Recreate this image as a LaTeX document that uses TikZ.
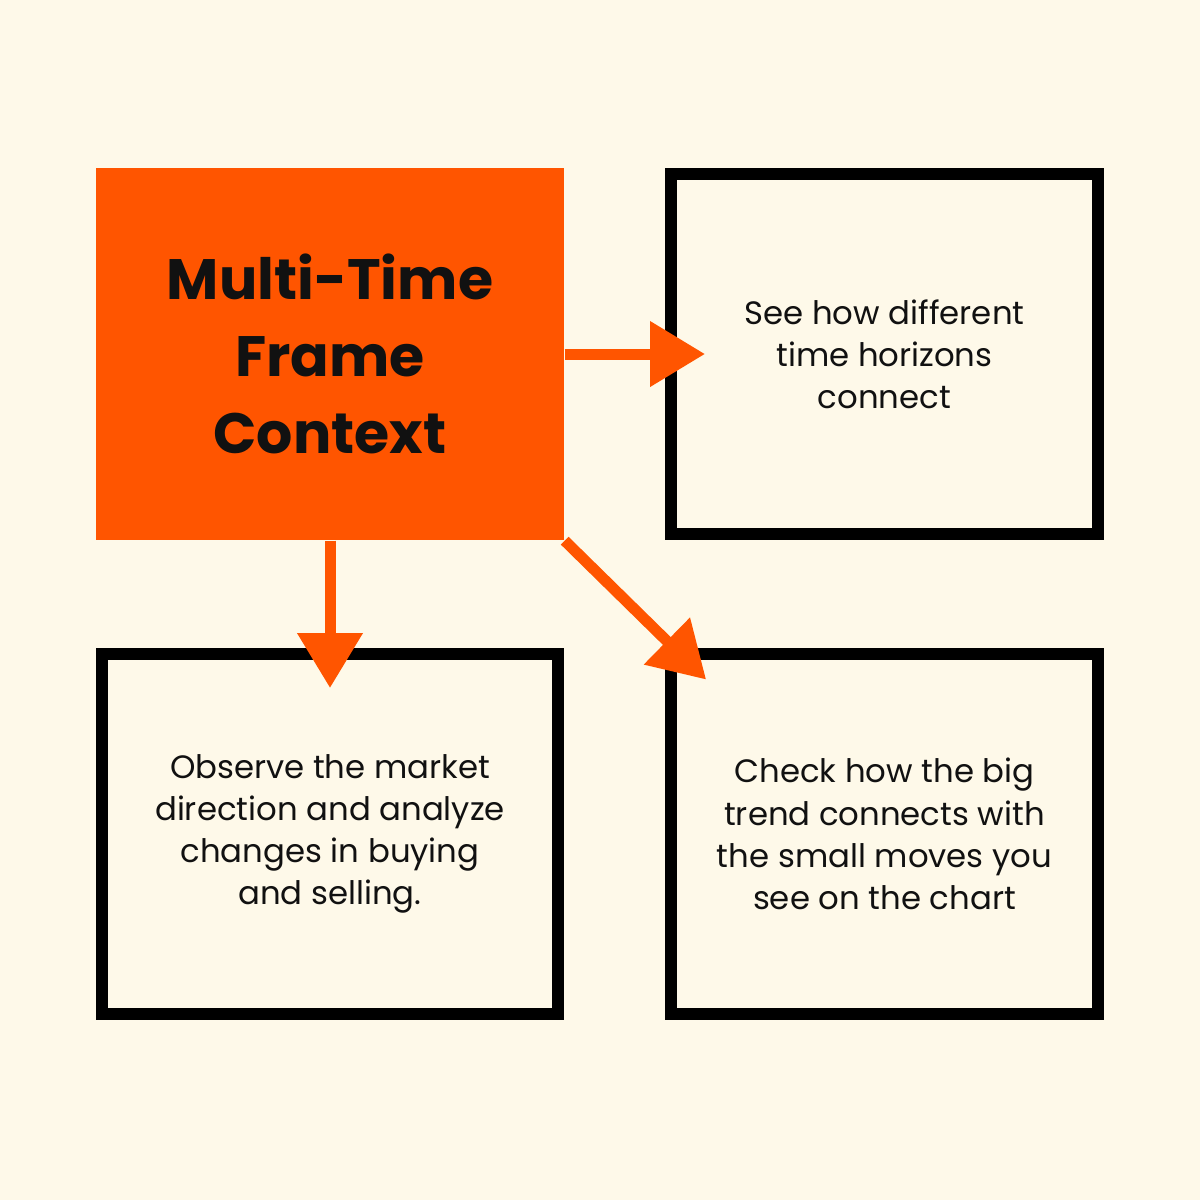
\documentclass[tikz,border=0pt]{standalone}
\usepackage{fontspec}
\setmainfont{Poppins}
\usetikzlibrary{arrows.meta}
\definecolor{paper}{HTML}{FEF9E9}
\definecolor{flame}{HTML}{FF5500}
\definecolor{ink}{HTML}{111111}

\begin{document}
\begin{tikzpicture}[>={Triangle[length=5.5mm,width=6.3mm]}, font=\fontsize{9.2}{12}\selectfont, text=ink]
  \tikzstyle{every edge}=[draw=flame, line width=1.1mm, ->, shorten >=-4mm]
  \tikzstyle{module}=[rectangle, draw=black, line width=1.2mm, minimum width=4.27cm, minimum height=3.6cm, align=center, inner sep=2pt]
  \tikzstyle{topic}=[rectangle, fill=flame, minimum width=4.68cm, minimum height=3.72cm, align=center, font=\fontsize{16.2}{22}\selectfont\bfseries]

  \fill[paper] (0,0) rectangle (12,-12);

  \node[topic] (frame) at (3.30,-3.54) {Multi-Time\\Frame\\Context};
  \node[module] (horizons) at (8.845,-3.54) {See how different\\time horizons\\connect};
  \path (frame) edge (horizons);
  \node[module, minimum width=4.56cm] (direction) at (3.30,-8.34) {Observe the market\\direction and analyze\\changes in buying\\and selling.};
  \path (frame) edge (direction);
  \node[module] (trend) at (8.845,-8.34) {Check how the big\\trend connects with\\the small moves you\\see on the chart};
  \path (frame.south east) edge[shorten >=-4.5mm] ([xshift=0.9mm]trend.north west);
\end{tikzpicture}
\end{document}
